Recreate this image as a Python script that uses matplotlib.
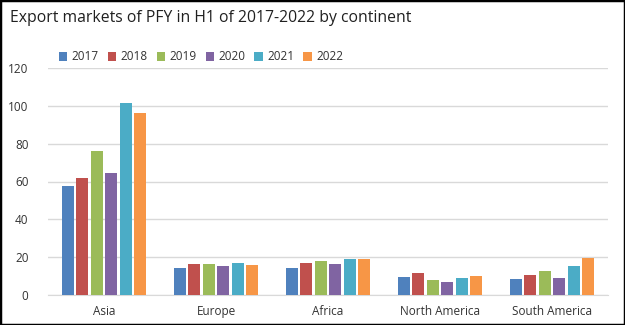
import matplotlib.pyplot as plt
import numpy as np

plt.rcParams['font.family'] = ['Open Sans', 'DejaVu Sans']

continents = ['Asia', 'Europe', 'Africa', 'North America', 'South America']
years = ['2017', '2018', '2019', '2020', '2021', '2022']
colors = ['#4F81BD', '#C0504D', '#9BBB59', '#8064A2', '#4BACC6', '#F79646']

v2017 = [57.7, 14.4, 14.5, 9.5, 8.5]
v2018 = [62.0, 16.6, 17.1, 11.5, 10.6]
v2019 = [76.3, 16.6, 18.0, 7.9, 12.5]
v2020 = [64.5, 15.5, 16.2, 7.0, 9.0]
v2021 = [101.6, 17.1, 19.0, 9.0, 15.2]
v2022 = [96.3, 16.0, 19.0, 10.0, 19.6]
series = [v2017, v2018, v2019, v2020, v2021, v2022]

fig = plt.figure(figsize=(6.25, 3.25), dpi=100)
ax = fig.add_axes([48 / 625, 30 / 325, 560 / 625, 227 / 325])

x = np.arange(len(continents))
step = 0.13
for i, (yr, vals, c) in enumerate(zip(years, series, colors)):
    ax.bar(x + (i - 2.5) * step, vals, width=0.107, color=c, label=yr, zorder=3)

ax.set_ylim(0, 120)
ax.set_xlim(-0.5, len(continents) - 0.5)
ax.set_yticks(range(0, 121, 20))
ax.set_xticks(x)
ax.set_xticklabels(continents)
ax.tick_params(axis='both', length=0, labelsize=8.5, colors='#333333')
ax.tick_params(axis='y', pad=14)
ax.tick_params(axis='x', pad=7)
ax.grid(axis='y', color='#D9D9D9', linewidth=1, zorder=0)
for s in ['top', 'right', 'left']:
    ax.spines[s].set_visible(False)
ax.spines['bottom'].set_color('#D9D9D9')

fig.text(10 / 625, 1 - 18 / 325, 'Export markets of PFY in H1 of 2017-2022 by continent',
         fontsize=11.3, va='center', ha='left', color='#202020')
fig.legend(loc='center left', bbox_to_anchor=(48 / 625, 1 - 57 / 325), ncol=6, frameon=False,
           fontsize=8.5, handlelength=0.7, handleheight=0.7, handletextpad=0.4,
           columnspacing=0.75, labelcolor='#333333')

fig.patches.append(plt.Rectangle((0, 0), 1, 1, transform=fig.transFigure, fill=False,
                                 edgecolor='black', linewidth=2.5))

fig.savefig('out.png', dpi=100)
